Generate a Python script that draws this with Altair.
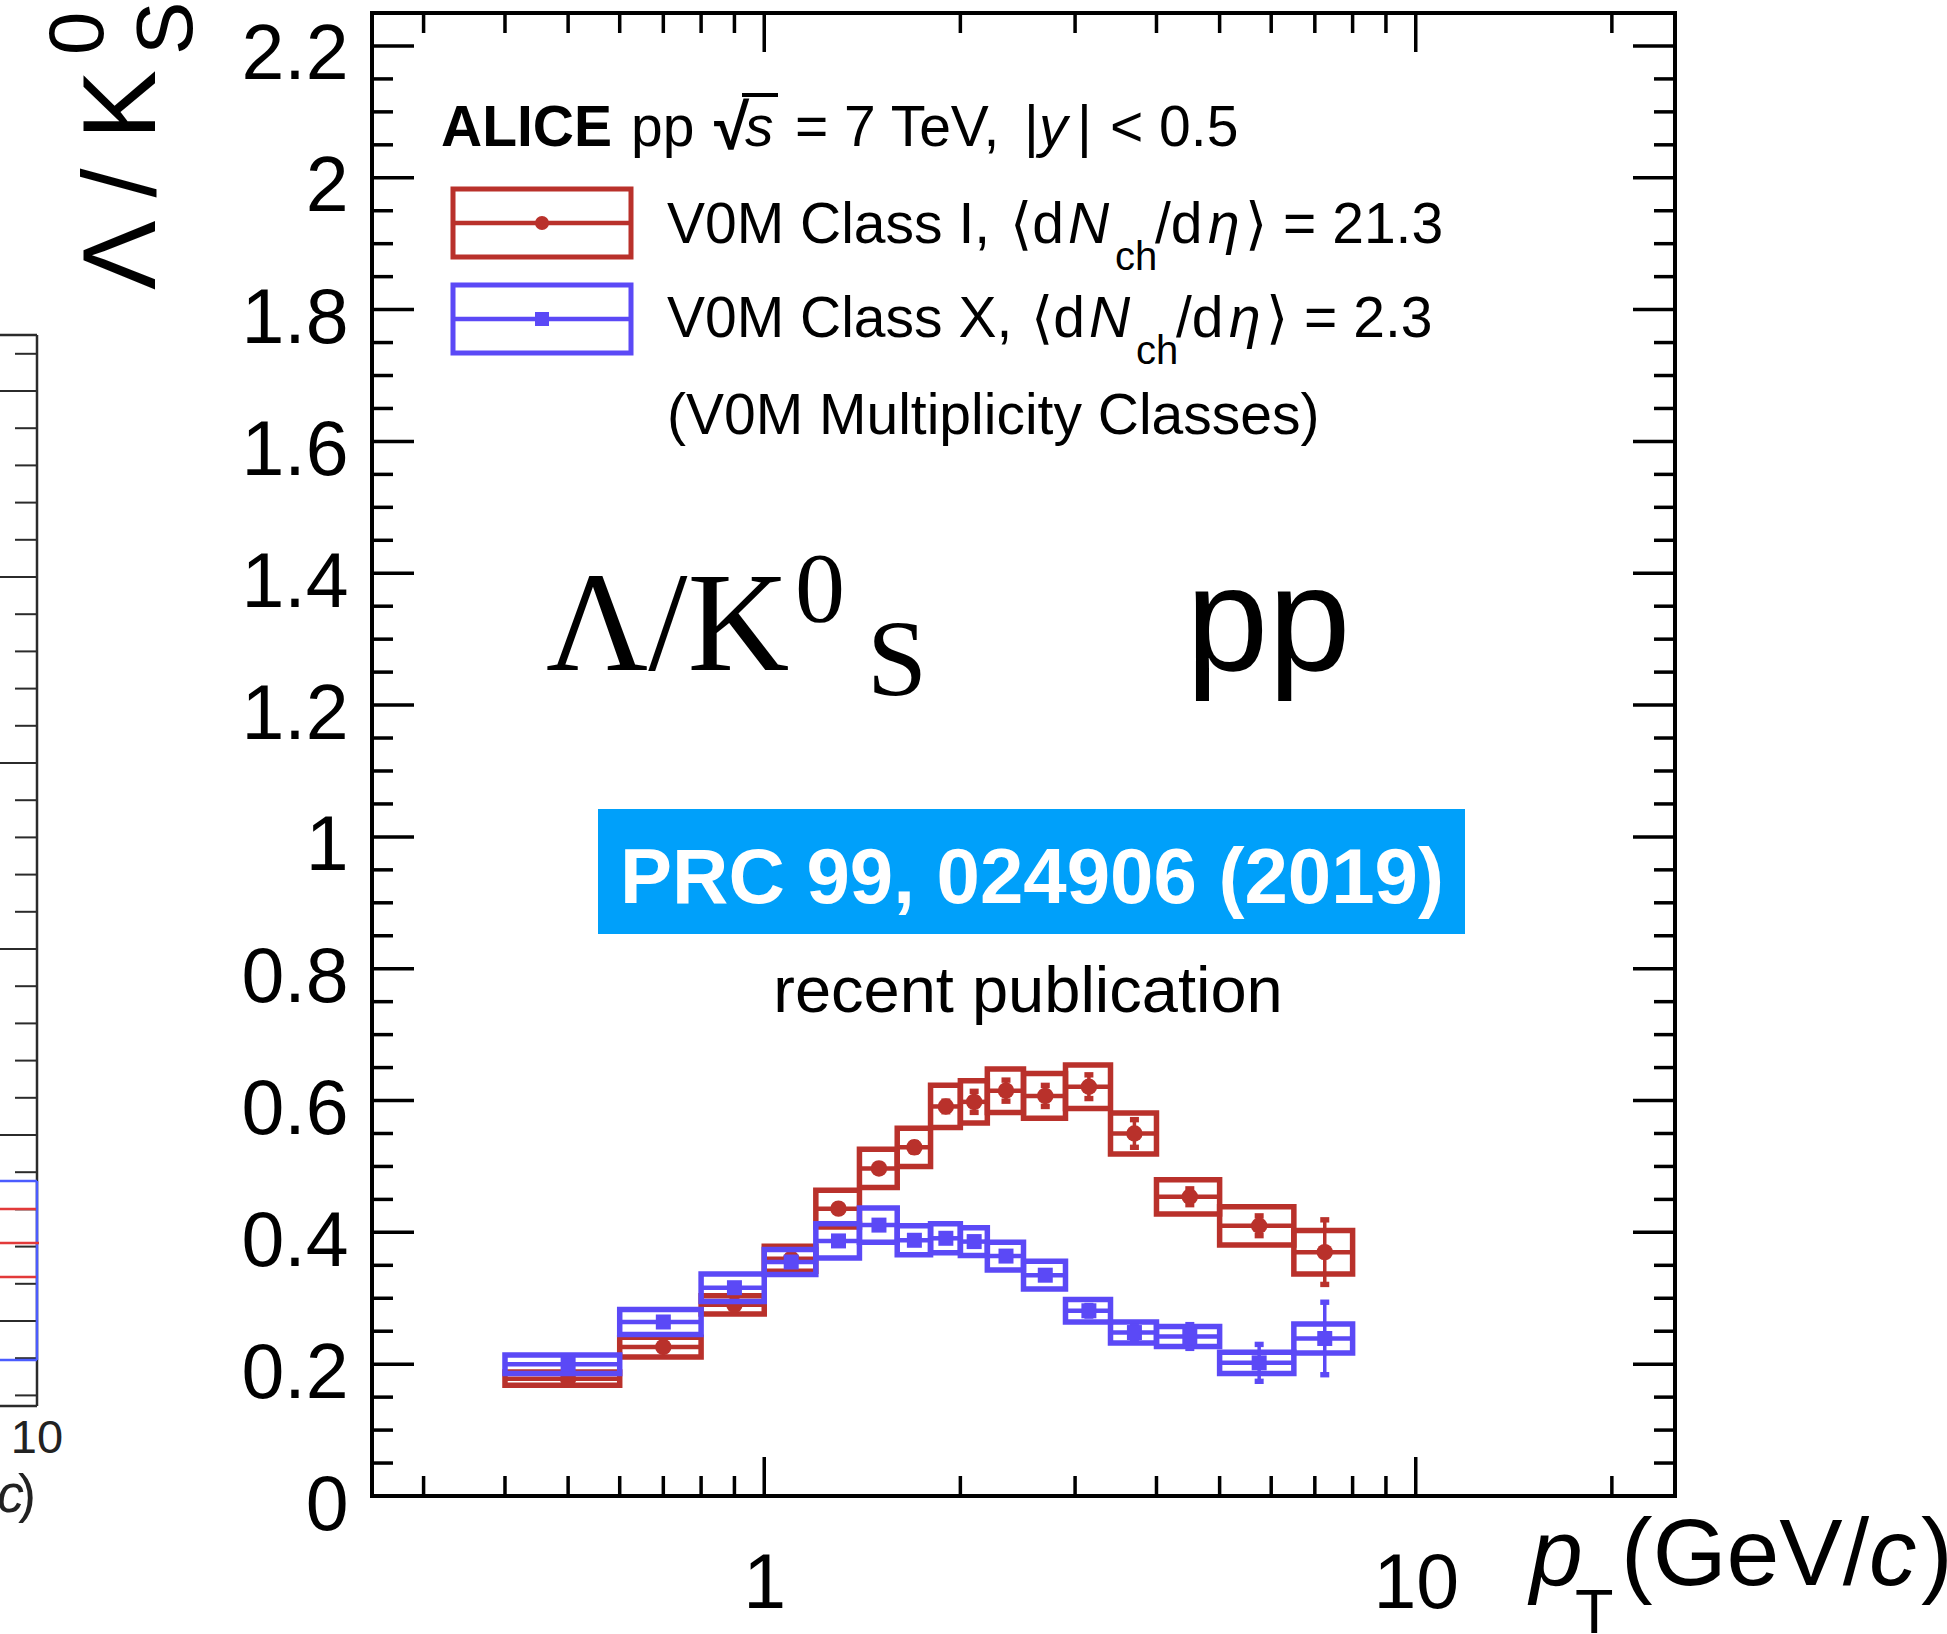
import altair as alt
import pandas as pd

# ---------------------------------------------------------------
# Lambda / K0S ratio vs pT, pp at 7 TeV, two V0M multiplicity classes
# ---------------------------------------------------------------

# pT bin edges (GeV/c)
pt_lo = [0.4, 0.6, 0.8, 1.0, 1.2, 1.4, 1.6, 1.8, 2.0, 2.2, 2.5, 2.9, 3.4, 4.0, 5.0, 6.5]
pt_hi = [0.6, 0.8, 1.0, 1.2, 1.4, 1.6, 1.8, 2.0, 2.2, 2.5, 2.9, 3.4, 4.0, 5.0, 6.5, 8.0]

# V0M class I, <dNch/deta> = 21.3
cls1_val = [0.178, 0.226, 0.290, 0.360, 0.436, 0.497, 0.529, 0.591,
            0.598, 0.615, 0.607, 0.621, 0.550, 0.454, 0.410, 0.370]
cls1_stat = [0.003, 0.003, 0.004, 0.004, 0.005, 0.006, 0.007, 0.008,
             0.016, 0.016, 0.016, 0.018, 0.021, 0.012, 0.015, 0.049]
cls1_sys = [0.010, 0.015, 0.014, 0.019, 0.028, 0.029, 0.029, 0.032,
            0.032, 0.033, 0.034, 0.033, 0.031, 0.026, 0.029, 0.033]

# V0M class X, <dNch/deta> = 2.3
cls10_val = [0.200, 0.264, 0.316, 0.355, 0.387, 0.411, 0.388, 0.391,
             0.386, 0.364, 0.335, 0.281, 0.248, 0.242, 0.202, 0.239]
cls10_stat = [0.003, 0.003, 0.004, 0.004, 0.004, 0.005, 0.005, 0.005,
              0.006, 0.006, 0.006, 0.008, 0.009, 0.018, 0.028, 0.055]
cls10_sys = [0.014, 0.019, 0.021, 0.019, 0.026, 0.026, 0.022, 0.022,
             0.021, 0.021, 0.021, 0.017, 0.016, 0.015, 0.016, 0.022]

# axis ticks
y_major = [0.0, 0.2, 0.4, 0.6, 0.8, 1.0, 1.2, 1.4, 1.6, 1.8, 2.0, 2.2]
y_minor = [round(0.05 * i, 2) for i in range(45) if i % 4 != 0]
x_major = [1, 10]
x_minor = [0.3, 0.4, 0.5, 0.6, 0.7, 0.8, 0.9, 2, 3, 4, 5, 6, 7, 8, 9, 20]

RED = "#B9312B"
BLUE = "#5B49F6"
SANS = "Liberation Sans, DejaVu Sans, Arial, sans-serif"
SERIF = "Liberation Serif, DejaVu Serif, Times New Roman, serif"

W, H = 1303, 1483

xscale = alt.Scale(type="log", domain=[0.25, 25], nice=False)
yscale = alt.Scale(domain=[0, 2.25], nice=False, zero=False)
xaxis = alt.Axis(values=x_major, format="~g", ticks=False, tickSize=0, domain=False,
                 grid=False, labelFontSize=77, labelFont=SANS, labelColor="black",
                 labelPadding=50, labelFlush=False, labelOverlap=False, title=None)
yaxis = alt.Axis(values=y_major, format=".1~f", ticks=False, tickSize=0, domain=False,
                 grid=False, labelFontSize=77, labelFont=SANS, labelColor="black",
                 labelPadding=24, labelOffset=10, labelFlush=False, labelOverlap=False,
                 title=None)


def X(field):
    return alt.X(field, type="quantitative", scale=xscale, axis=xaxis)


def Y(field):
    return alt.Y(field, type="quantitative", scale=yscale, axis=yaxis)


def series_frame(val, stat, sys):
    df = pd.DataFrame({"lo": pt_lo, "hi": pt_hi, "val": val, "stat": stat, "sys": sys})
    df["pt"] = (df["lo"] + df["hi"]) / 2
    df["sys_lo"] = df["val"] - df["sys"]
    df["sys_hi"] = df["val"] + df["sys"]
    df["stat_lo"] = df["val"] - df["stat"]
    df["stat_hi"] = df["val"] + df["stat"]
    return df


CAP = "M-1,-0.6L1,-0.6L1,0.6L-1,0.6Z"


def series_layers(df, color, shape, size):
    base = alt.Chart(df)
    boxes = base.mark_rect(fillOpacity=0, stroke=color, strokeWidth=5.5).encode(
        x=X("lo"), x2="hi", y=Y("sys_lo"), y2="sys_hi")
    xerr = base.mark_rule(color=color, strokeWidth=4.5).encode(
        x=X("lo"), x2="hi", y=Y("val"))
    stat = base.mark_rule(color=color, strokeWidth=3.5).encode(
        x=X("pt"), y=Y("stat_lo"), y2="stat_hi")
    cap_lo = base.mark_point(shape=CAP, filled=True, size=81, color=color, opacity=1).encode(
        x=X("pt"), y=Y("stat_lo"))
    cap_hi = base.mark_point(shape=CAP, filled=True, size=81, color=color, opacity=1).encode(
        x=X("pt"), y=Y("stat_hi"))
    pts = base.mark_point(shape=shape, filled=True, size=size, color=color, opacity=1).encode(
        x=X("pt"), y=Y("val"))
    return [boxes, xerr, stat, cap_lo, cap_hi, pts]


one = pd.DataFrame({"k": [0]})


def txt(s, x, y, size, font=SANS, **kw):
    props = dict(text=s, fontSize=size, font=font, align="left",
                 baseline="alphabetic", color="black")
    props.update(kw)
    return alt.Chart(one).mark_text(**props).encode(x=alt.value(x), y=alt.value(y))


def prule(x, x2, y, y2, color="black", w=3.5):
    return alt.Chart(one).mark_rule(color=color, strokeWidth=w).encode(
        x=alt.value(x), x2=alt.value(x2), y=alt.value(y), y2=alt.value(y2))


def prect(x, x2, y, y2, **kw):
    return alt.Chart(one).mark_rect(**kw).encode(
        x=alt.value(x), x2=alt.value(x2), y=alt.value(y), y2=alt.value(y2))


layers = []
layers += series_layers(series_frame(cls1_val, cls1_stat, cls1_sys), RED, "circle", 270)
layers += series_layers(series_frame(cls10_val, cls10_stat, cls10_sys), BLUE, "square", 225)

# frame ticks (inward, on all four sides)
ymaj = alt.Chart(pd.DataFrame({"v": y_major}))
ymin = alt.Chart(pd.DataFrame({"v": y_minor}))
xmaj = alt.Chart(pd.DataFrame({"v": x_major}))
xmin = alt.Chart(pd.DataFrame({"v": x_minor}))
TW = 3.5
layers += [
    ymaj.mark_rule(color="black", strokeWidth=TW).encode(y=Y("v"), x=alt.value(0), x2=alt.value(42)),
    ymin.mark_rule(color="black", strokeWidth=TW).encode(y=Y("v"), x=alt.value(0), x2=alt.value(21)),
    ymaj.mark_rule(color="black", strokeWidth=TW).encode(y=Y("v"), x=alt.value(W - 42), x2=alt.value(W)),
    ymin.mark_rule(color="black", strokeWidth=TW).encode(y=Y("v"), x=alt.value(W - 21), x2=alt.value(W)),
    xmaj.mark_rule(color="black", strokeWidth=TW).encode(x=X("v"), y=alt.value(H - 39), y2=alt.value(H)),
    xmin.mark_rule(color="black", strokeWidth=TW).encode(x=X("v"), y=alt.value(H - 20), y2=alt.value(H)),
    xmaj.mark_rule(color="black", strokeWidth=TW).encode(x=X("v"), y=alt.value(0), y2=alt.value(39)),
    xmin.mark_rule(color="black", strokeWidth=TW).encode(x=X("v"), y=alt.value(0), y2=alt.value(20)),
]

# header and legend
LF = 57
layers += [
    txt("ALICE", 69, 133, 57, fontWeight="bold"),
    txt("pp", 259, 133, 57),
    txt("\u221a", 342, 136, 64, fontWeight="bold"),
    prule(370, 406, 82, 82, w=4),
    txt("s", 373, 133, 57, fontStyle="italic"),
    txt("= 7 TeV,", 423, 133, 57),
    txt("|", 652, 133, 57),
    txt("y", 667, 133, 57, fontStyle="italic"),
    txt("|", 705, 133, 57),
    txt("< 0.5", 738, 133, 57),
]
for color, top, base_y, label, dx, value in [
    (RED, 176, 230, "V0M Class I,", 0, "\u27e9 = 21.3"),
    (BLUE, 272, 324, "V0M Class X,", 21, "\u27e9 = 2.3"),
]:
    cy = top + 34
    layers += [
        prect(81, 259, top, top + 68, fillOpacity=0, stroke=color, strokeWidth=5),
        prule(81, 259, cy, cy, color=color, w=4.5),
        txt(label, 295, base_y, LF),
        txt("\u27e8d", 638 + dx, base_y, LF),
        txt("N", 696 + dx, base_y, LF, fontStyle="italic"),
        txt("ch", 743 + dx, base_y + 27, 40),
        txt("/d", 783 + dx, base_y, LF),
        txt("\u03b7", 836 + dx, base_y, LF, fontStyle="italic"),
        txt(value, 873 + dx, base_y, LF),
    ]
leg = pd.DataFrame({"k": [0]})
layers += [
    alt.Chart(leg).mark_point(shape="circle", filled=True, size=196, color=RED, opacity=1).encode(
        x=alt.value(170), y=alt.value(210)),
    alt.Chart(leg).mark_point(shape="square", filled=True, size=196, color=BLUE, opacity=1).encode(
        x=alt.value(170), y=alt.value(306)),
    txt("(V0M Multiplicity Classes)", 295, 421, LF),
]

# big annotations
layers += [
    txt("\u039b/K", 174, 657, 141, font=SERIF),
    txt("0", 423, 608, 100, font=SERIF),
    txt("S", 495, 682, 108, font=SERIF),
    txt("pp", 814, 657, 148),
    prect(226, 1093, 796, 921, fill="#00A0FA"),
    txt("PRC 99, 024906 (2019)", 660, 890, 78, align="center", color="white", fontWeight="bold"),
    txt("recent publication", 656, 999, 65, align="center"),
]

# axis titles
layers += [
    txt("p", 1158, 1572, 95, fontStyle="italic"),
    txt("T", 1203, 1620, 63),
    txt("(GeV/", 1249, 1572, 95),
    txt("c", 1497, 1572, 95, fontStyle="italic"),
    txt(")", 1549, 1572, 95),
    txt("\u039b / K", -217, 277, 104, angle=270),
    txt("0", -269, 42, 78, angle=270),
    txt("S", -180, 42, 80, angle=270),
]

# neighbouring panel edge on the left
FR = "#2b2b2b"
layers += [
    prule(-335, -335, 322, 1393, color=FR, w=2.5),
    prule(-372, -335, 322, 322, color=FR, w=2.5),
    prule(-372, -335, 1393, 1393, color=FR, w=2.5),
]
for i in range(-1, 28):
    ty = 378 + 37.2 * i
    length = 40 if i % 5 == 0 else 22
    layers.append(prule(-335 - length, -335, ty, ty, color=FR, w=2))
layers += [
    prule(-372, -335, 1168, 1168, color="#4B5CFF", w=2.5),
    prule(-372, -335, 1347, 1347, color="#4B5CFF", w=2.5),
    prule(-335, -335, 1168, 1347, color="#4B5CFF", w=2.5),
    prule(-372, -336, 1196, 1196, color="#E23A3A", w=2.5),
    prule(-372, -333, 1230, 1230, color="#E23A3A", w=2.5),
    prule(-372, -336, 1264, 1264, color="#E23A3A", w=2.5),
    txt("10", -335, 1440, 47, align="center", color="#222222"),
    txt("c", -375, 1499, 54, fontStyle="italic", color="#222222"),
    txt(")", -354, 1499, 54, color="#222222"),
]

chart = alt.layer(*layers).properties(
    width=W,
    height=H,
    background="white",
    padding={"left": 372, "top": 13, "right": 272, "bottom": 138},
    autosize=alt.AutoSizeParams(type="none"),
).configure_view(
    stroke="black", strokeWidth=4
)

chart.save("out.html", embed_options={"renderer": "svg", "actions": False})
